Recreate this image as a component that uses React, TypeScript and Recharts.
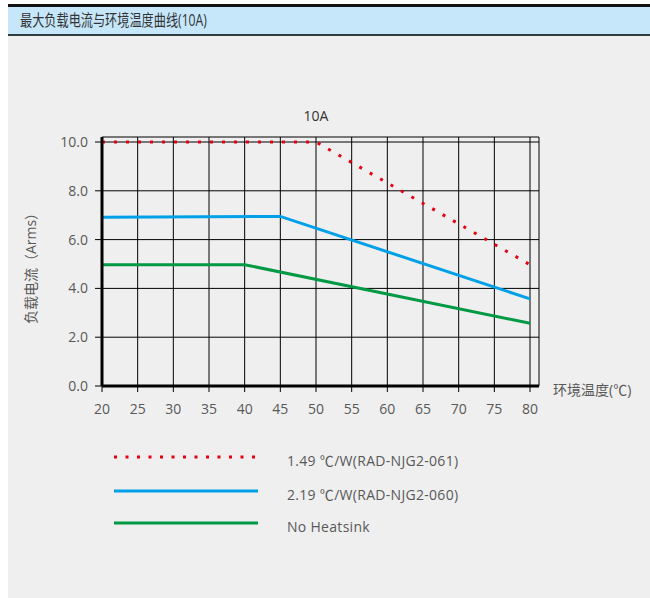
import React from 'react';
import { LineChart, Line, XAxis, YAxis, CartesianGrid } from 'recharts';

// ---- data ----
const xTicks = [20, 25, 30, 35, 40, 45, 50, 55, 60, 65, 70, 75, 80];
const yTicks = [0, 2, 4, 6, 8, 10];

const redTemps = [20, 50, 80];
const redCurrent = [10, 10, 4.97];
const blueTemps = [20, 45, 80];
const blueCurrent = [6.92, 6.95, 3.57];
const greenTemps = [20, 40, 80];
const greenCurrent = [4.97, 4.97, 2.57];

const seriesNames = ['1.49 ℃/W(RAD-NJG2-061)', '2.19 ℃/W(RAD-NJG2-060)', 'No Heatsink'];
const seriesColors = ['#e60012', '#00a0e9', '#009944'];
const seriesDash = ['3 9', undefined, undefined];

const headerTitle = '最大负载电流与环境温度曲线(10A)';
const chartTitle = '10A';
const yLabel = '负载电流（Arms）';
const xLabel = '环境温度(℃)';

const toRows = (xs: number[], ys: number[]) => xs.map((t, i) => ({ t, v: ys[i] }));
const seriesData = [toRows(redTemps, redCurrent), toRows(blueTemps, blueCurrent), toRows(greenTemps, greenCurrent)];

const FONT = '"Open Sans","Noto Sans CJK SC",sans-serif';
const TEXT = '#595959';

export default function App() {
  return (
    <div style={{ position: 'absolute', left: 0, top: 0, width: 650, height: 598, background: '#fff', fontFamily: FONT, overflow: 'hidden' }}>
      <div style={{ position: 'absolute', left: 8, top: 4, width: 642, height: 3, background: '#111' }} />
      <div style={{ position: 'absolute', left: 8, top: 7, width: 642, height: 27, background: '#c6e7fa', borderBottom: '2px solid #2e3b40' }} />
      <div style={{ position: 'absolute', left: 8, top: 36, width: 642, height: 562, background: '#efefef' }} />
      <div style={{ position: 'absolute', left: 20, top: 9, fontSize: 16, lineHeight: '22px', color: '#333', whiteSpace: 'nowrap', transform: 'scaleX(0.76)', transformOrigin: 'left center' }}>{headerTitle}</div>

      <div style={{ position: 'absolute', left: 0, top: 0 }}>
        <LineChart width={650} height={598} margin={{ top: 137, right: 111, bottom: 182, left: 0 }}>
          <CartesianGrid stroke="#000" strokeWidth={1} />
          <XAxis
            type="number"
            dataKey="t"
            domain={[20, 81.26]}
            ticks={xTicks}
            allowDuplicatedCategory={false}
            height={30}
            axisLine={{ stroke: '#000', strokeWidth: 3 }}
            tickLine={{ stroke: '#000', strokeWidth: 1 }}
            tickSize={6}
            tickMargin={12}
            tick={{ fill: TEXT, fontSize: 14, fontFamily: FONT }}
            interval={0}
          />
          <YAxis
            type="number"
            dataKey="v"
            domain={[0, 10.205]}
            ticks={yTicks}
            width={102}
            axisLine={{ stroke: '#000', strokeWidth: 3 }}
            tickLine={{ stroke: '#000', strokeWidth: 1 }}
            tickSize={7}
            tickMargin={7}
            tick={{ fill: TEXT, fontSize: 14, fontFamily: FONT }}
            tickFormatter={(v: number) => v.toFixed(1)}
            interval={0}
          />
          {seriesData.map((d, i) => (
            <Line
              key={seriesNames[i]}
              data={d}
              dataKey="v"
              name={seriesNames[i]}
              type="linear"
              stroke={seriesColors[i]}
              strokeWidth={3}
              strokeDasharray={seriesDash[i]}
              dot={false}
              activeDot={false}
              isAnimationActive={false}
            />
          ))}
        </LineChart>
      </div>

      <div style={{ position: 'absolute', left: 316, top: 115, transform: 'translate(-50%,-50%)', fontSize: 14, color: '#333', whiteSpace: 'nowrap' }}>{chartTitle}</div>
      <div style={{ position: 'absolute', left: 30, top: 265, transform: 'translate(-50%,-50%) rotate(-90deg)', fontSize: 14, color: TEXT, whiteSpace: 'nowrap' }}>{yLabel}</div>
      <div style={{ position: 'absolute', left: 553, top: 389, transform: 'translateY(-50%)', fontSize: 14, color: TEXT, whiteSpace: 'nowrap' }}>{xLabel}</div>

      {seriesNames.map((name, i) => {
        const cy = [457, 491, 523][i];
        return (
          <React.Fragment key={name}>
            <svg style={{ position: 'absolute', left: 110, top: cy - 5 }} width={152} height={10}>
              <line x1={4} y1={5} x2={148} y2={5} stroke={seriesColors[i]} strokeWidth={3} strokeDasharray={seriesDash[i] ? '3 8.5' : undefined} />
            </svg>
            <div style={{ position: 'absolute', left: 287, top: cy + 3, transform: 'translateY(-50%)', fontSize: 14, letterSpacing: 0.3, color: TEXT, whiteSpace: 'nowrap' }}>{name}</div>
          </React.Fragment>
        );
      })}
    </div>
  );
}
